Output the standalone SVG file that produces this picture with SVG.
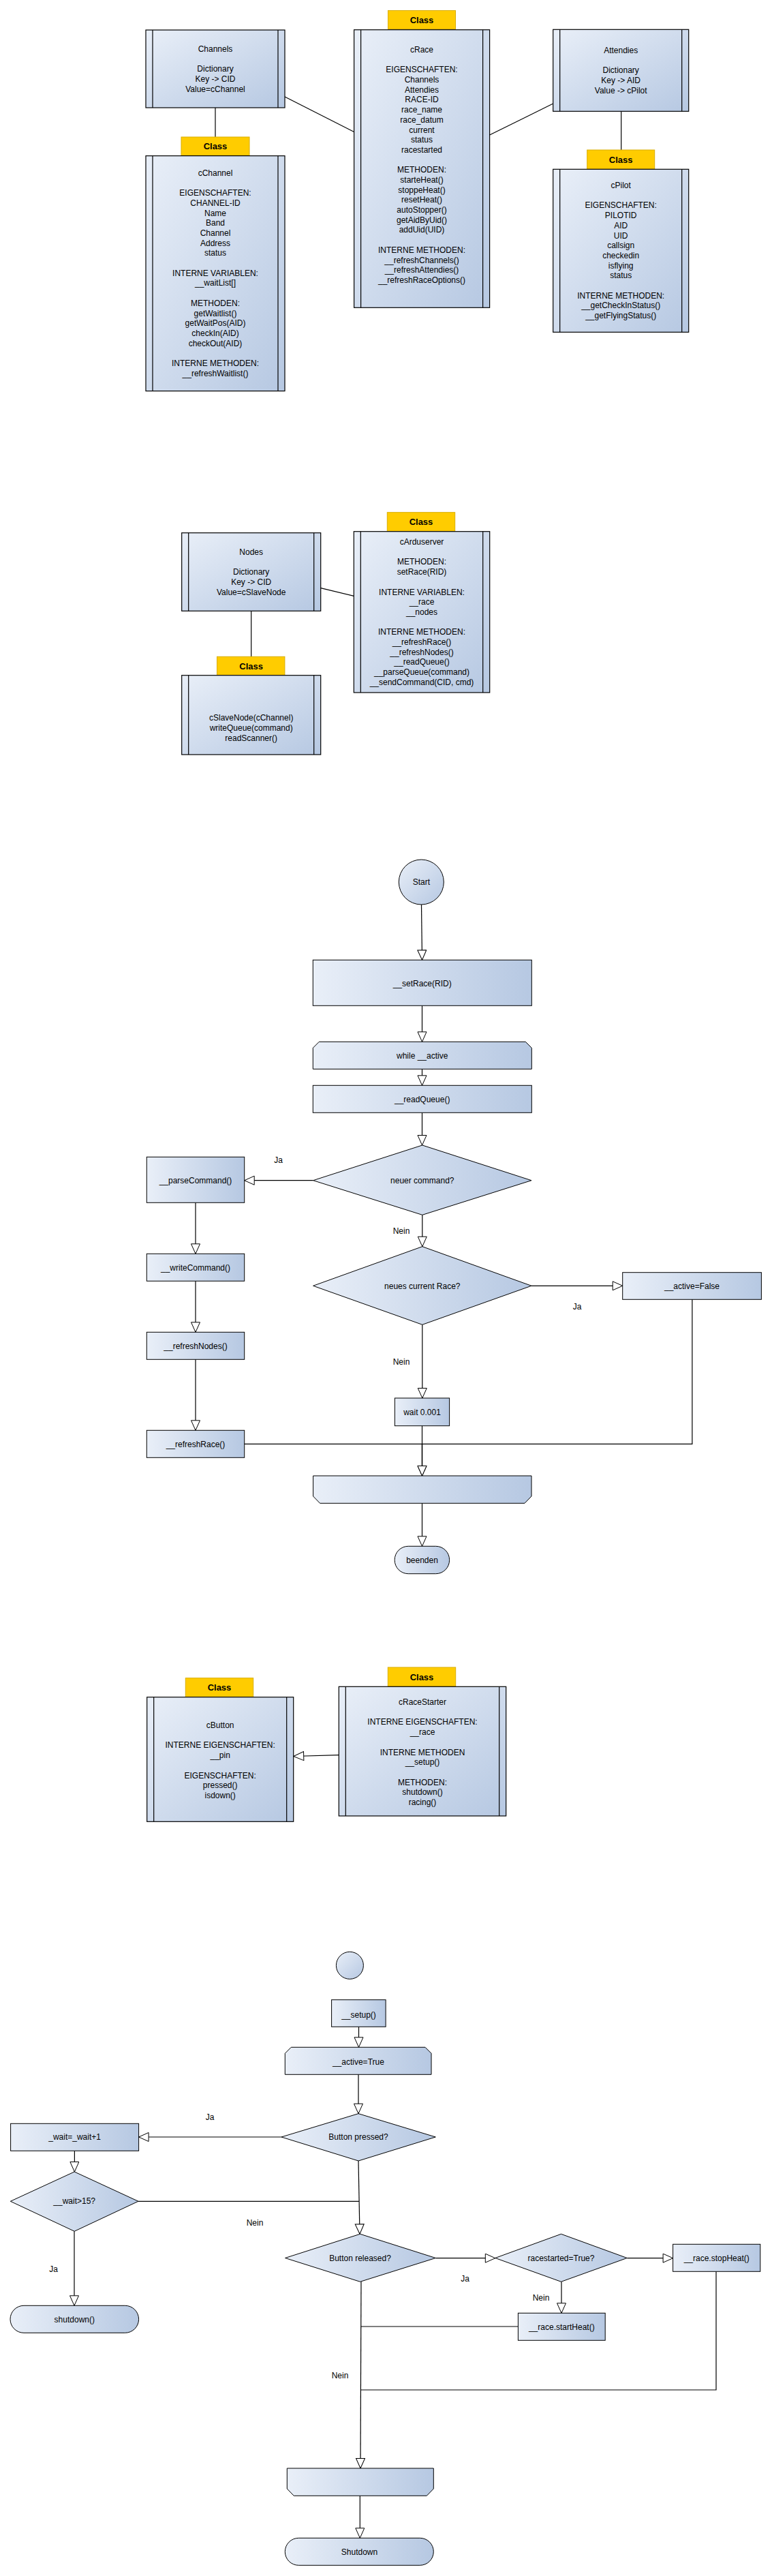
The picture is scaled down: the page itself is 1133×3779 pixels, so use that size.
<svg xmlns="http://www.w3.org/2000/svg" width="1133" height="3779" viewBox="0 0 1133 3779">
<defs>
<linearGradient id="gd" x1="0" y1="0" x2="1" y2="1"><stop offset="0" stop-color="#e9eff8"/><stop offset="1" stop-color="#b6c8e2"/></linearGradient>
<linearGradient id="gh" x1="0" y1="0" x2="1" y2="0"><stop offset="0" stop-color="#e9eff8"/><stop offset="1" stop-color="#b6c8e2"/></linearGradient>
<marker id="ah" markerUnits="userSpaceOnUse" markerWidth="18" markerHeight="16" refX="15.5" refY="7" orient="auto" viewBox="0 0 18 16"><path d="M1,0.5 L15.5,7 L1,13.5 Z" fill="#fff" stroke="#000" stroke-width="1"/></marker>
<marker id="ih" markerUnits="userSpaceOnUse" markerWidth="18" markerHeight="16" refX="16" refY="7" orient="auto" viewBox="0 0 18 16"><path d="M1,0.5 L16,7 L1,13.5 Z" fill="#fff" stroke="#000" stroke-width="1"/></marker>
</defs>
<style>
text{font-family:"Liberation Sans",Arial,sans-serif;font-size:12px;fill:#000;text-anchor:middle}
.tab rect{fill:#ffcc00;stroke:#d9ad00;stroke-width:1}
.tab text{font-weight:bold;font-size:13px}
.cls{fill:url(#gd);stroke:#000;stroke-width:1.2}
.str{stroke:#000;stroke-width:1.2}
.fc{fill:url(#gh);stroke:#000;stroke-width:1}
.fd{fill:url(#gd);stroke:#000;stroke-width:1}
.c line,.c polyline,.c path{fill:none;stroke:#000;stroke-width:1.2}
.a{marker-end:url(#ah)}
</style>
<rect width="1133" height="3779" fill="#fff"/>

<g class="c" id="connectors">
<line x1="316" y1="158" x2="316" y2="201"/>
<line x1="417.6" y1="141.7" x2="519.6" y2="193.5"/>
<line x1="718.6" y1="198" x2="811.7" y2="152"/>
<line x1="911.7" y1="163.3" x2="911.7" y2="220"/>
<line x1="368.7" y1="896.3" x2="368.7" y2="963.3"/>
<line x1="470.7" y1="862.7" x2="519.3" y2="874.3"/>
<line x1="618.5" y1="1327" x2="619.5" y2="1408.3" class="a"/>
<line x1="619.5" y1="1475.3" x2="619.5" y2="1528.3" class="a"/>
<line x1="619.5" y1="1568.3" x2="619.5" y2="1592.3" class="a"/>
<line x1="619.5" y1="1632.3" x2="619.5" y2="1680" class="a"/>
<line x1="459.6" y1="1731.7" x2="358.7" y2="1731.7" class="a"/>
<line x1="287" y1="1764.3" x2="287" y2="1839.3" class="a"/>
<line x1="287" y1="1879.3" x2="287" y2="1954.3" class="a"/>
<line x1="287" y1="1994.3" x2="287" y2="2098.3" class="a"/>
<line x1="619.8" y1="1782.3" x2="619.8" y2="1828.7" class="a"/>
<line x1="780" y1="1886.3" x2="913.7" y2="1886.3" class="a"/>
<line x1="619.8" y1="1943.3" x2="619.8" y2="2051" class="a"/>
<polyline points="1015.9,1906.3 1015.9,2118.3 619.5,2118.3 619.5,2165" class="a"/>
<polyline points="358.8,2118.3 619.5,2118.3 619.5,2165" class="a"/>
<line x1="619.5" y1="2091.7" x2="619.5" y2="2165" class="a"/>
<line x1="619.5" y1="2205.3" x2="619.5" y2="2268.3" class="a"/>
<line x1="497.3" y1="2574.7" x2="430.7" y2="2576.5" style="marker-end:url(#ih)"/>
<line x1="526.5" y1="2973.3" x2="526.5" y2="3003.3" class="a"/>
<line x1="526" y1="3043.3" x2="526" y2="3100.7" class="a"/>
<line x1="413" y1="3135" x2="203.6" y2="3135" class="a"/>
<line x1="109.4" y1="3155.3" x2="109.4" y2="3186" class="a"/>
<line x1="203" y1="3229.3" x2="527" y2="3229.3"/>
<line x1="526" y1="3170" x2="528" y2="3277.3" class="a"/>
<line x1="109" y1="3273.3" x2="109" y2="3382.3" class="a"/>
<line x1="639.4" y1="3312.7" x2="726.8" y2="3312.7" class="a"/>
<line x1="920.3" y1="3312.7" x2="987.6" y2="3312.7" class="a"/>
<line x1="824" y1="3347.3" x2="824" y2="3393.3" class="a"/>
<line x1="760.4" y1="3413" x2="530" y2="3413"/>
<polyline points="1051,3332.3 1051,3506 530,3506"/>
<line x1="530" y1="3347.3" x2="529" y2="3621" class="a"/>
<line x1="528.3" y1="3661.3" x2="528.3" y2="3723.3" class="a"/>
</g>

<g id="Channels">
<rect class="cls" x="214" y="44" width="204" height="114"/>
<line class="str" x1="224" y1="44" x2="224" y2="158"/><line class="str" x1="408" y1="44" x2="408" y2="158"/>
<text><tspan x="316" y="76">Channels</tspan><tspan x="316" y="105.4">Dictionary</tspan><tspan x="316" y="120.1">Key -&gt; CID</tspan><tspan x="316" y="134.8">Value=cChannel</tspan></text>
</g>

<g id="cChannel">
<g class="tab"><rect x="266" y="201" width="100" height="27"/><text x="316" y="219">Class</text></g>
<rect class="cls" x="214" y="228.6" width="204" height="345"/>
<line class="str" x1="224" y1="228.6" x2="224" y2="573.6"/><line class="str" x1="408" y1="228.6" x2="408" y2="573.6"/>
<text><tspan x="316" y="257.8">cChannel</tspan><tspan x="316" dy="29.4">EIGENSCHAFTEN:</tspan><tspan x="316" dy="14.7">CHANNEL-ID</tspan><tspan x="316" dy="14.7">Name</tspan><tspan x="316" dy="14.7">Band</tspan><tspan x="316" dy="14.7">Channel</tspan><tspan x="316" dy="14.7">Address</tspan><tspan x="316" dy="14.7">status</tspan><tspan x="316" dy="29.4">INTERNE VARIABLEN:</tspan><tspan x="316" dy="14.7">__waitList[]</tspan><tspan x="316" dy="29.4">METHODEN:</tspan><tspan x="316" dy="14.7">getWaitlist()</tspan><tspan x="316" dy="14.7">getWaitPos(AID)</tspan><tspan x="316" dy="14.7">checkIn(AID)</tspan><tspan x="316" dy="14.7">checkOut(AID)</tspan><tspan x="316" dy="29.4">INTERNE METHODEN:</tspan><tspan x="316" dy="14.7">__refreshWaitlist()</tspan></text>
</g>

<g id="cRace">
<g class="tab"><rect x="569.5" y="15.5" width="99" height="27"/><text x="619" y="33.5">Class</text></g>
<rect class="cls" x="519.6" y="43.7" width="199" height="407.6"/>
<line class="str" x1="529.6" y1="43.7" x2="529.6" y2="451.3"/><line class="str" x1="708.6" y1="43.7" x2="708.6" y2="451.3"/>
<text><tspan x="619" y="76.9">cRace</tspan><tspan x="619" dy="29.4">EIGENSCHAFTEN:</tspan><tspan x="619" dy="14.7">Channels</tspan><tspan x="619" dy="14.7">Attendies</tspan><tspan x="619" dy="14.7">RACE-ID</tspan><tspan x="619" dy="14.7">race_name</tspan><tspan x="619" dy="14.7">race_datum</tspan><tspan x="619" dy="14.7">current</tspan><tspan x="619" dy="14.7">status</tspan><tspan x="619" dy="14.7">racestarted</tspan><tspan x="619" dy="29.4">METHODEN:</tspan><tspan x="619" dy="14.7">starteHeat()</tspan><tspan x="619" dy="14.7">stoppeHeat()</tspan><tspan x="619" dy="14.7">resetHeat()</tspan><tspan x="619" dy="14.7">autoStopper()</tspan><tspan x="619" dy="14.7">getAidByUid()</tspan><tspan x="619" dy="14.7">addUid(UID)</tspan><tspan x="619" dy="29.4">INTERNE METHODEN:</tspan><tspan x="619" dy="14.7">__refreshChannels()</tspan><tspan x="619" dy="14.7">__refreshAttendies()</tspan><tspan x="619" dy="14.7">__refreshRaceOptions()</tspan></text>
</g>

<g id="Attendies">
<rect class="cls" x="811.7" y="43.3" width="199" height="120"/>
<line class="str" x1="821.7" y1="43.3" x2="821.7" y2="163.3"/><line class="str" x1="1000.7" y1="43.3" x2="1000.7" y2="163.3"/>
<text><tspan x="911.2" y="78">Attendies</tspan><tspan x="911.2" dy="29.4">Dictionary</tspan><tspan x="911.2" dy="14.7">Key -&gt; AID</tspan><tspan x="911.2" dy="14.7">Value -&gt; cPilot</tspan></text>
</g>

<g id="cPilot">
<g class="tab"><rect x="861.7" y="220" width="99" height="28"/><text x="911.2" y="238.5">Class</text></g>
<rect class="cls" x="811.7" y="248.3" width="199" height="239"/>
<line class="str" x1="821.7" y1="248.3" x2="821.7" y2="487.3"/><line class="str" x1="1000.7" y1="248.3" x2="1000.7" y2="487.3"/>
<text><tspan x="911.2" y="276">cPilot</tspan><tspan x="911.2" dy="29.4">EIGENSCHAFTEN:</tspan><tspan x="911.2" dy="14.7">PILOTID</tspan><tspan x="911.2" dy="14.7">AID</tspan><tspan x="911.2" dy="14.7">UID</tspan><tspan x="911.2" dy="14.7">callsign</tspan><tspan x="911.2" dy="14.7">checkedin</tspan><tspan x="911.2" dy="14.7">isflying</tspan><tspan x="911.2" dy="14.7">status</tspan><tspan x="911.2" dy="29.4">INTERNE METHODEN:</tspan><tspan x="911.2" dy="14.7">__getCheckInStatus()</tspan><tspan x="911.2" dy="14.7">__getFlyingStatus()</tspan></text>
</g>

<g id="Nodes">
<rect class="cls" x="266.7" y="781.7" width="204" height="114.6"/>
<line class="str" x1="276.7" y1="781.7" x2="276.7" y2="896.3"/><line class="str" x1="460.7" y1="781.7" x2="460.7" y2="896.3"/>
<text><tspan x="368.7" y="814">Nodes</tspan><tspan x="368.7" dy="29.4">Dictionary</tspan><tspan x="368.7" dy="14.7">Key -&gt; CID</tspan><tspan x="368.7" dy="14.7">Value=cSlaveNode</tspan></text>
</g>

<g id="cSlaveNode">
<g class="tab"><rect x="318.5" y="963.3" width="99.4" height="27.4"/><text x="368.7" y="981.5">Class</text></g>
<rect class="cls" x="266.7" y="990.7" width="204" height="116.3"/>
<line class="str" x1="276.7" y1="990.7" x2="276.7" y2="1107"/><line class="str" x1="460.7" y1="990.7" x2="460.7" y2="1107"/>
<text><tspan x="368.7" y="1057.3">cSlaveNode(cChannel)</tspan><tspan x="368.7" dy="14.7">writeQueue(command)</tspan><tspan x="368.7" dy="14.7">readScanner()</tspan></text>
</g>

<g id="cArduserver">
<g class="tab"><rect x="568.3" y="751.7" width="99.4" height="27.6"/><text x="618" y="770">Class</text></g>
<rect class="cls" x="519.3" y="779.7" width="199.4" height="236.3"/>
<line class="str" x1="529.3" y1="779.7" x2="529.3" y2="1016"/><line class="str" x1="708.7" y1="779.7" x2="708.7" y2="1016"/>
<text><tspan x="619" y="799">cArduserver</tspan><tspan x="619" dy="29.4">METHODEN:</tspan><tspan x="619" dy="14.7">setRace(RID)</tspan><tspan x="619" dy="29.4">INTERNE VARIABLEN:</tspan><tspan x="619" dy="14.7">__race</tspan><tspan x="619" dy="14.7">__nodes</tspan><tspan x="619" dy="29.4">INTERNE METHODEN:</tspan><tspan x="619" dy="14.7">__refreshRace()</tspan><tspan x="619" dy="14.7">__refreshNodes()</tspan><tspan x="619" dy="14.7">__readQueue()</tspan><tspan x="619" dy="14.7">__parseQueue(command)</tspan><tspan x="619" dy="14.7">__sendCommand(CID, cmd)</tspan></text>
</g>

<g id="Start"><circle class="fd" cx="618.3" cy="1294" r="33"/><text x="618.3" y="1298">Start</text></g>
<g id="setRace"><rect class="fc" x="459.3" y="1408.3" width="321" height="67"/><text x="619.7" y="1447">__setRace(RID)</text></g>
<g id="whileActive"><path class="fc" d="M468.3,1528.3 H771.3 L780.3,1537.3 V1568.3 H459.3 V1537.3 Z"/><text x="619.7" y="1553">while __active</text></g>
<g id="readQueue"><rect class="fc" x="459.3" y="1592.3" width="321" height="40"/><text x="619.7" y="1617">__readQueue()</text></g>
<g id="neuerCommand"><path class="fc" d="M619.8,1680 L780,1731.7 L619.8,1782.3 L459.6,1731.7 Z"/><text x="619.8" y="1736">neuer command?</text></g>
<g id="parseCommand"><rect class="fc" x="215.3" y="1697.3" width="143.4" height="67"/><text x="287" y="1736">__parseCommand()</text></g>
<g id="writeCommand"><rect class="fc" x="215.3" y="1839.3" width="143.4" height="40"/><text x="287" y="1864">__writeCommand()</text></g>
<g id="refreshNodes"><rect class="fc" x="215.3" y="1954.3" width="143.4" height="40"/><text x="287" y="1979">__refreshNodes()</text></g>
<g id="refreshRace"><rect class="fc" x="215.3" y="2098.3" width="143.4" height="40"/><text x="287" y="2122.5">__refreshRace()</text></g>
<g id="neuesRace"><path class="fc" d="M619.8,1828.7 L780,1886.3 L619.8,1943.3 L459.6,1886.3 Z"/><text x="619.8" y="1890.5">neues current Race?</text></g>
<g id="activeFalse"><rect class="fc" x="913.7" y="1866.7" width="203.7" height="39.6"/><text x="1015.5" y="1891">__active=False</text></g>
<g id="wait"><rect class="fc" x="579.4" y="2051" width="80.2" height="40.7"/><text x="619.5" y="2076">wait 0.001</text></g>
<g id="loopEnd1"><path class="fc" d="M459.6,2165 H780 V2195 L770,2205.3 H469.6 L459.6,2195 Z"/></g>
<g id="beenden"><rect class="fc" x="579.2" y="2268.3" width="80.4" height="40.4" rx="20" ry="20"/><text x="619.5" y="2293">beenden</text></g>

<g id="labels1">
<text x="408.6" y="1706">Ja</text>
<text x="589" y="1810">Nein</text>
<text x="847" y="1921">Ja</text>
<text x="589" y="2002">Nein</text>
</g>

<g id="cButton">
<g class="tab"><rect x="272.3" y="2461.7" width="99.4" height="27.6"/><text x="322" y="2480">Class</text></g>
<rect class="cls" x="215.7" y="2489.7" width="215" height="182.6"/>
<line class="str" x1="225.7" y1="2489.7" x2="225.7" y2="2672.3"/><line class="str" x1="420.7" y1="2489.7" x2="420.7" y2="2672.3"/>
<text><tspan x="323.2" y="2535">cButton</tspan><tspan x="323.2" dy="29.4">INTERNE EIGENSCHAFTEN:</tspan><tspan x="323.2" dy="14.7">__pin</tspan><tspan x="323.2" dy="29.4">EIGENSCHAFTEN:</tspan><tspan x="323.2" dy="14.7">pressed()</tspan><tspan x="323.2" dy="14.7">isdown()</tspan></text>
</g>

<g id="cRaceStarter">
<g class="tab"><rect x="569.3" y="2446" width="99.4" height="28"/><text x="619" y="2464.5">Class</text></g>
<rect class="cls" x="497.3" y="2474.3" width="245.4" height="189.7"/>
<line class="str" x1="507.3" y1="2474.3" x2="507.3" y2="2664"/><line class="str" x1="732.7" y1="2474.3" x2="732.7" y2="2664"/>
<text><tspan x="620" y="2501">cRaceStarter</tspan><tspan x="620" dy="29.4">INTERNE EIGENSCHAFTEN:</tspan><tspan x="620" dy="14.7">__race</tspan><tspan x="620" dy="29.4">INTERNE METHODEN</tspan><tspan x="620" dy="14.7">__setup()</tspan><tspan x="620" dy="29.4">METHODEN:</tspan><tspan x="620" dy="14.7">shutdown()</tspan><tspan x="620" dy="14.7">racing()</tspan></text>
</g>

<g id="start2"><circle class="fd" cx="513.4" cy="2883.3" r="20"/></g>
<g id="setup"><rect class="fc" x="486.6" y="2933.7" width="79.5" height="39.6"/><text x="526.5" y="2959.5">__setup()</text></g>
<g id="activeTrue"><path class="fc" d="M427.3,3003.3 H624 L633,3012.3 V3043.3 H418.3 V3012.3 Z"/><text x="525.9" y="3029">__active=True</text></g>
<g id="buttonPressed"><path class="fc" d="M526,3100.7 L639.3,3135 L526,3170 L413,3135 Z"/><text x="526" y="3139">Button pressed?</text></g>
<g id="waitInc"><rect class="fc" x="15.6" y="3115.3" width="188" height="40"/><text x="109.6" y="3139">_wait=_wait+1</text></g>
<g id="waitGt15"><path class="fc" d="M109.2,3186 L203,3229.3 L109.2,3273.3 L15.3,3229.3 Z"/><text x="109.2" y="3233">__wait&gt;15?</text></g>
<g id="shutdownCall"><rect class="fc" x="15" y="3382.3" width="188.6" height="40" rx="20" ry="20"/><text x="109.3" y="3406.5">shutdown()</text></g>
<g id="buttonReleased"><path class="fc" d="M528.5,3277.3 L639.4,3312.5 L528.5,3347.3 L418.5,3312.5 Z"/><text x="528.5" y="3316.5">Button released?</text></g>
<g id="raceStarted"><path class="fc" d="M823.5,3277.3 L920.3,3312.5 L823.5,3347.3 L726.8,3312.5 Z"/><text x="823.5" y="3316.5">racestarted=True?</text></g>
<g id="stopHeat"><rect class="fc" x="987.6" y="3292.3" width="128.2" height="40"/><text x="1051.7" y="3316.5">__race.stopHeat()</text></g>
<g id="startHeat"><rect class="fc" x="760.4" y="3393.3" width="127.8" height="40"/><text x="824.3" y="3417.5">__race.startHeat()</text></g>
<g id="loopEnd2"><path class="fc" d="M421.3,3621 H636.3 V3651 L626.3,3661.3 H431.3 L421.3,3651 Z"/></g>
<g id="Shutdown"><rect class="fc" x="418.3" y="3723.3" width="218" height="40" rx="20" ry="20"/><text x="527.5" y="3748">Shutdown</text></g>

<g id="labels2">
<text x="308" y="3110">Ja</text>
<text x="374" y="3265">Nein</text>
<text x="78.6" y="3333">Ja</text>
<text x="682.6" y="3347">Ja</text>
<text x="794" y="3375">Nein</text>
<text x="499" y="3489">Nein</text>
</g>
</svg>
